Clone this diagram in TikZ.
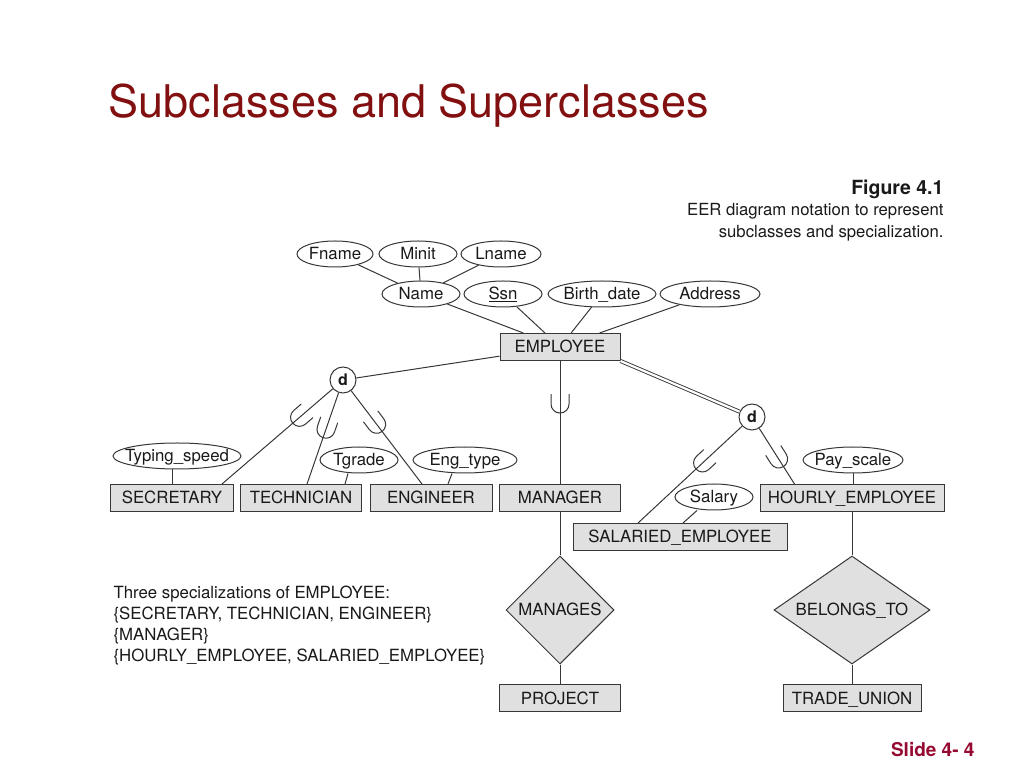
\documentclass[tikz,border=0pt]{standalone}
\usepackage{fontspec}
\setmainfont{TeX Gyre Heros}
\usetikzlibrary{shapes.geometric}

\definecolor{titlered}{RGB}{130,16,16}
\definecolor{slidered}{RGB}{150,10,50}
\definecolor{boxgray}{RGB}{224,224,224}
\definecolor{inkgray}{RGB}{55,55,55}

\begin{document}
\begin{tikzpicture}[
		x=1pt, y=1pt,
		font=\fontsize{16.8}{20}\selectfont,
		every node/.style={text=black!90},
		entity/.style={draw=inkgray, line width=1, fill=boxgray, minimum height=27, inner xsep=0pt, text height=12, text depth=0},
		attr/.style={ellipse, draw=inkgray, line width=1, minimum height=26, inner xsep=-20pt, inner ysep=0pt, text height=12, text depth=0},
		relation/.style={diamond, draw=inkgray, line width=1, fill=boxgray, inner sep=1pt, text height=12, text depth=0},
		spec/.style={circle, draw=inkgray, line width=1, fill=white, minimum size=26, inner sep=0pt, font=\fontsize{16}{16}\selectfont\bfseries},
		link/.style={draw=inkgray, line width=1},
		subset/.pic={\draw[inkgray, line width=1] (-10,9) -- (0,9) arc[start angle=90, end angle=-90, radius=9pt] -- (-10,-9);},
	]
		\useasboundingbox (0,0) rectangle (1024,768);
		
		% title and captions
		\node[anchor=base west, text=titlered, font=\fontsize{45}{50}\selectfont] (title) at (105,650) {Subclasses and Superclasses};
		\node[anchor=north east, align=right, font=\fontsize{16.7}{21.5}\selectfont] (caption) at (947,592)
			{{\fontsize{19.5}{22}\selectfont\bfseries Figure 4.1}\\EER diagram notation to represent\\subclasses and specialization.};
		\node[anchor=north west, align=left, font=\fontsize{16.8}{21}\selectfont] (specs) at (110,186)
			{Three specializations of EMPLOYEE:\\\{SECRETARY, TECHNICIAN, ENGINEER\}\\\{MANAGER\}\\\{HOURLY\_EMPLOYEE, SALARIED\_EMPLOYEE\}};
		\node[anchor=base east, text=slidered, font=\fontsize{19}{22}\selectfont\bfseries] (slide) at (978,12) {Slide 4- 4};
		
		% attributes of EMPLOYEE
		\node[attr, minimum width=76] (fname) at (335,514) {Fname};
		\node[attr, minimum width=78] (minit) at (418,514) {Minit};
		\node[attr, minimum width=80] (lname) at (501,514) {Lname};
		\node[attr, minimum width=78] (name) at (421,474) {Name};
		\node[attr, minimum width=78] (ssn) at (503,474) {\underline{Ssn}};
		\node[attr, minimum width=108] (bdate) at (602,474) {Birth\_date};
		\node[attr, minimum width=100] (addr) at (710,474) {Address};
		
		\node[entity, minimum width=120] (emp) at (560,421) {EMPLOYEE};
		
		\draw[link] (fname) -- (name);
		\draw[link] (minit) -- (name);
		\draw[link] (lname) -- (name);
		\draw[link] (name) -- (emp);
		\draw[link] (ssn) -- (emp);
		\draw[link] (bdate) -- (emp);
		\draw[link] (addr) -- (emp);
		
		% specialization circles
		\node[spec] (d1) at (343,388) {d};
		\node[spec] (d2) at (752,351) {d};
		
		% subclasses
		\node[entity, minimum width=123] (sec) at (172,270) {SECRETARY};
		\node[entity, minimum width=121] (tech) at (301,270) {TECHNICIAN};
		\node[entity, minimum width=122] (eng) at (431,270) {ENGINEER};
		\node[entity, minimum width=121] (mgr) at (560,270) {MANAGER};
		\node[entity, minimum width=184] (hourly) at (852,270) {HOURLY\_EMPLOYEE};
		\node[entity, minimum width=214] (salemp) at (680,231) {SALARIED\_EMPLOYEE};
		
		\node[attr, minimum width=128] (tspeed) at (177,312) {Typing\_speed};
		\node[attr, minimum width=78] (tgrade) at (359,308) {Tgrade};
		\node[attr, minimum width=104] (etype) at (465,308) {Eng\_type};
		\node[attr, minimum width=100] (pscale) at (853,308) {Pay\_scale};
		\node[attr, minimum width=78] (salary) at (714,271) {Salary};
		
		\draw[link] ([xshift=-5]tspeed.south) -- ([xshift=-5]tspeed.south |- sec.north);
		\draw[link] ([xshift=-11]tgrade.south) -- ([xshift=44]tech.north);
		\draw[link] ([xshift=-13]etype.south) -- ([xshift=17]eng.north);
		\draw[link] (pscale.south) -- (pscale.south |- hourly.north);
		\draw[link] ([xshift=-17]salary.south) -- ([xshift=3]salemp.north);
		
		% superclass links
		\draw[link] (emp) -- (d1);
		\draw[inkgray, line width=0.9, double, double distance=2.2pt] (emp.south east) -- (d2);
		
		\draw[link] (d1) -- ([xshift=-12]sec.north east) pic[pos=0.3, sloped, allow upside down]{subset};
		\draw[link] (d1) -- ([xshift=6]tech.north) pic[pos=0.4, sloped, allow upside down]{subset};
		\draw[link] (d1) -- ([xshift=-9]eng.north) pic[pos=0.36, sloped, allow upside down]{subset};
		\draw[link] (emp) -- (mgr) pic[pos=0.35, sloped, allow upside down]{subset};
		\draw[link] (d2) -- ([xshift=-42]salemp.north) pic[pos=0.38, sloped, allow upside down]{subset};
		\draw[link] (d2) -- ([xshift=35]hourly.north west) pic[pos=0.55, sloped, allow upside down]{subset};
		
		% relationships
		\node[relation, shape aspect=1, minimum width=108, minimum height=108] (manages) at (560,158) {MANAGES};
		\node[relation, shape aspect=1.44, minimum width=156, minimum height=108] (belongs) at (852,158) {BELONGS\_TO};
		\node[entity, minimum width=121] (project) at (560,70) {PROJECT};
		\node[entity, minimum width=138] (union) at (852,70) {TRADE\_UNION};
		
		\draw[link] (mgr) -- (manages) -- (project);
		\draw[link] (hourly) -- (belongs) -- (union);
	\end{tikzpicture}
\end{document}
